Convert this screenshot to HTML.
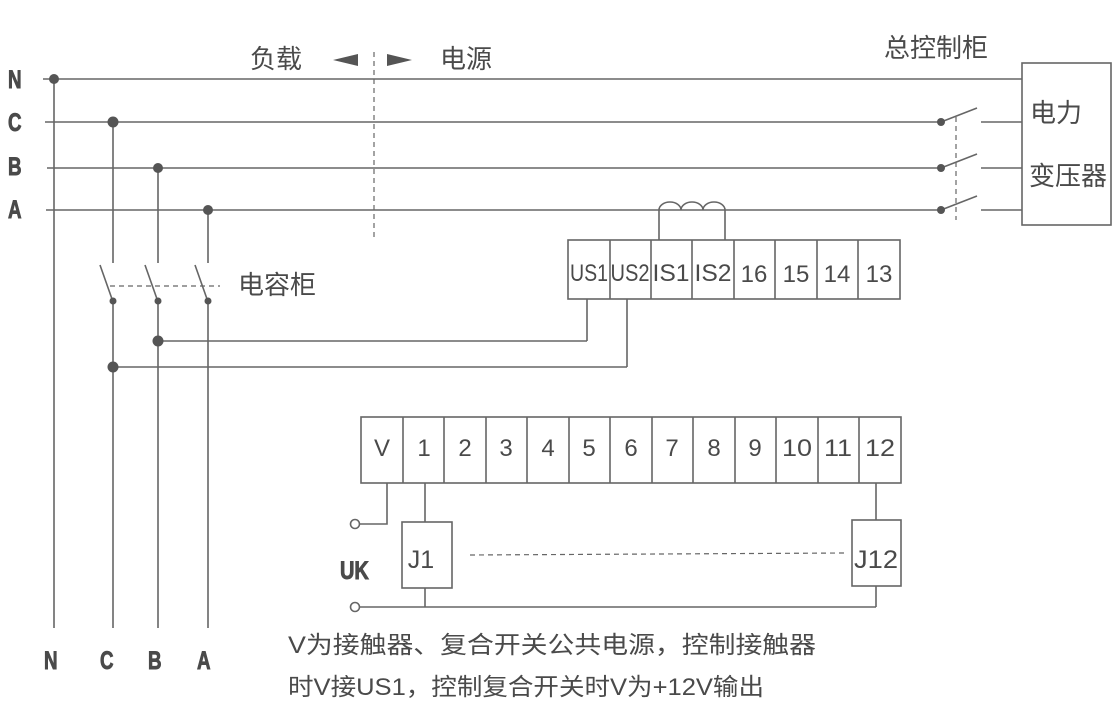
<!DOCTYPE html>
<html><head><meta charset="utf-8"><style>
html,body{margin:0;padding:0;background:#fff;}
svg{display:block;}
text{font-family:"Liberation Sans","Noto Sans CJK SC",sans-serif;fill:#4a4a4a;}
.b text{font-family:"Liberation Sans",sans-serif;font-weight:bold;stroke:#4a4a4a;stroke-width:0.9;}
</style></head><body>
<svg width="1115" height="720" viewBox="0 0 1115 720" xmlns="http://www.w3.org/2000/svg">
<g stroke="#666" stroke-width="1.6" fill="none">
<line x1="43" y1="79" x2="1022" y2="79"/>
<line x1="45" y1="122" x2="941" y2="122"/>
<line x1="47" y1="168" x2="941" y2="168"/>
<line x1="46" y1="210" x2="941" y2="210"/>
<line x1="54" y1="79" x2="54" y2="628"/>
<line x1="113" y1="122" x2="113" y2="263"/>
<line x1="158" y1="168" x2="158" y2="263"/>
<line x1="208" y1="210" x2="208" y2="263"/>
<line x1="100" y1="265" x2="112" y2="299"/>
<line x1="145" y1="265" x2="157" y2="299"/>
<line x1="195" y1="265" x2="207" y2="299"/>
<line x1="113" y1="301" x2="113" y2="628"/>
<line x1="158" y1="301" x2="158" y2="628"/>
<line x1="208" y1="301" x2="208" y2="628"/>
<line x1="110" y1="286" x2="220" y2="286" stroke-dasharray="5,4" stroke-width="1.2"/>
<line x1="374" y1="52" x2="374" y2="240" stroke-dasharray="5,4" stroke-width="1.2"/>
<line x1="158" y1="341" x2="587" y2="341"/>
<line x1="587" y1="299" x2="587" y2="341"/>
<line x1="113" y1="367" x2="627" y2="367"/>
<line x1="627" y1="299" x2="627" y2="367"/>
<path d="M659 240 V210 A11 8 0 0 1 681 210 A11 8 0 0 1 703 210 A11 8 0 0 1 725 210 V240"/>
<rect x="568" y="240" width="332" height="59"/>
<line x1="610" y1="240" x2="610" y2="299"/><line x1="651" y1="240" x2="651" y2="299"/>
<line x1="692" y1="240" x2="692" y2="299"/><line x1="734" y1="240" x2="734" y2="299"/>
<line x1="775" y1="240" x2="775" y2="299"/><line x1="817" y1="240" x2="817" y2="299"/>
<line x1="858" y1="240" x2="858" y2="299"/>
<line x1="941" y1="122" x2="977" y2="108"/><line x1="981" y1="122" x2="1022" y2="122"/>
<line x1="941" y1="168" x2="977" y2="154"/><line x1="981" y1="168" x2="1022" y2="168"/>
<line x1="941" y1="210" x2="977" y2="196"/><line x1="981" y1="210" x2="1022" y2="210"/>
<line x1="956" y1="117" x2="956" y2="220" stroke-dasharray="5,4" stroke-width="1.2"/>
<rect x="1022" y="63" width="89" height="162"/>
<rect x="361" y="417" width="540" height="66"/>
<line x1="403" y1="417" x2="403" y2="483"/><line x1="444" y1="417" x2="444" y2="483"/>
<line x1="486" y1="417" x2="486" y2="483"/><line x1="527" y1="417" x2="527" y2="483"/>
<line x1="569" y1="417" x2="569" y2="483"/><line x1="610" y1="417" x2="610" y2="483"/>
<line x1="652" y1="417" x2="652" y2="483"/><line x1="693" y1="417" x2="693" y2="483"/>
<line x1="735" y1="417" x2="735" y2="483"/><line x1="776" y1="417" x2="776" y2="483"/>
<line x1="818" y1="417" x2="818" y2="483"/><line x1="859" y1="417" x2="859" y2="483"/>
<polyline points="387,483 387,524 359,524"/>
<circle cx="355" cy="524" r="4.5" fill="#fff"/>
<line x1="425" y1="483" x2="425" y2="522"/>
<rect x="402" y="522" width="50" height="66"/>
<line x1="425" y1="588" x2="425" y2="607"/>
<line x1="360" y1="607" x2="876" y2="607"/>
<circle cx="355" cy="607" r="4.5" fill="#fff"/>
<line x1="876" y1="483" x2="876" y2="520"/>
<rect x="852" y="520" width="49" height="66"/>
<line x1="876" y1="586" x2="876" y2="607"/>
<line x1="470" y1="555" x2="845" y2="553" stroke-dasharray="5,4" stroke-width="1.2"/>
</g>
<g fill="#555">
<circle cx="54" cy="79" r="5"/>
<circle cx="113" cy="122" r="5.5"/>
<circle cx="158" cy="168" r="5"/>
<circle cx="208" cy="210" r="5"/>
<circle cx="113" cy="301" r="3.5"/><circle cx="158" cy="301" r="3.5"/><circle cx="208" cy="301" r="3.5"/>
<circle cx="158" cy="341" r="5.5"/>
<circle cx="113" cy="367" r="5.5"/>
<circle cx="941" cy="122" r="4"/><circle cx="941" cy="168" r="4"/><circle cx="941" cy="210" r="4"/>
<polygon points="333,60 358,54 358,66"/>
<polygon points="387,54 412,60 387,66"/>
</g>
<g class="b" font-size="25">
<text x="8" y="88" transform="translate(8 0) scale(0.75 1) translate(-8 0)">N</text>
<text x="8" y="131" transform="translate(8 0) scale(0.75 1) translate(-8 0)">C</text>
<text x="8" y="175" transform="translate(8 0) scale(0.75 1) translate(-8 0)">B</text>
<text x="8" y="218" transform="translate(8 0) scale(0.75 1) translate(-8 0)">A</text>
<text x="44" y="669" transform="translate(44 0) scale(0.75 1) translate(-44 0)">N</text>
<text x="100" y="669" transform="translate(100 0) scale(0.75 1) translate(-100 0)">C</text>
<text x="148" y="669" transform="translate(148 0) scale(0.75 1) translate(-148 0)">B</text>
<text x="197" y="669" transform="translate(197 0) scale(0.75 1) translate(-197 0)">A</text>
<text x="340" y="579" transform="translate(340 0) scale(0.8 1) translate(-340 0)">UK</text>
</g>
<g font-size="26">
<text x="250" y="68">负载</text>
<text x="440" y="68">电源</text>
<text x="884" y="57">总控制柜</text>
<text x="238" y="294">电容柜</text>
<text x="1030" y="122">电力</text>
<text x="1029" y="185">变压器</text>
</g>
<g font-size="24" text-anchor="middle">
<text x="589" y="281" textLength="38" lengthAdjust="spacingAndGlyphs">US1</text>
<text x="630" y="281" textLength="39" lengthAdjust="spacingAndGlyphs">US2</text>
<text x="671" y="281" textLength="37" lengthAdjust="spacingAndGlyphs">IS1</text>
<text x="713" y="281" textLength="37" lengthAdjust="spacingAndGlyphs">IS2</text>
<text x="754" y="282">16</text><text x="796" y="282">15</text>
<text x="837" y="282">14</text><text x="879" y="282">13</text>
<text x="382" y="456">V</text><text x="424" y="456">1</text><text x="465" y="456">2</text>
<text x="506" y="456">3</text><text x="548" y="456">4</text><text x="589" y="456">5</text>
<text x="631" y="456">6</text><text x="672" y="456">7</text><text x="714" y="456">8</text>
<text x="755" y="456">9</text><text x="797" y="456" textLength="30" lengthAdjust="spacingAndGlyphs">10</text><text x="838" y="456" textLength="28" lengthAdjust="spacingAndGlyphs">11</text>
<text x="880" y="456" textLength="30" lengthAdjust="spacingAndGlyphs">12</text>
<text x="421" y="568" font-size="25">J1</text>
<text x="876" y="568" font-size="25" textLength="44" lengthAdjust="spacingAndGlyphs">J12</text>
</g>
<g font-size="24">
<text x="288" y="653" textLength="528" lengthAdjust="spacingAndGlyphs">V为接触器、复合开关公共电源，控制接触器</text>
<text x="288" y="695" textLength="476" lengthAdjust="spacingAndGlyphs">时V接US1，控制复合开关时V为+12V输出</text>
</g>
</svg>
</body></html>
